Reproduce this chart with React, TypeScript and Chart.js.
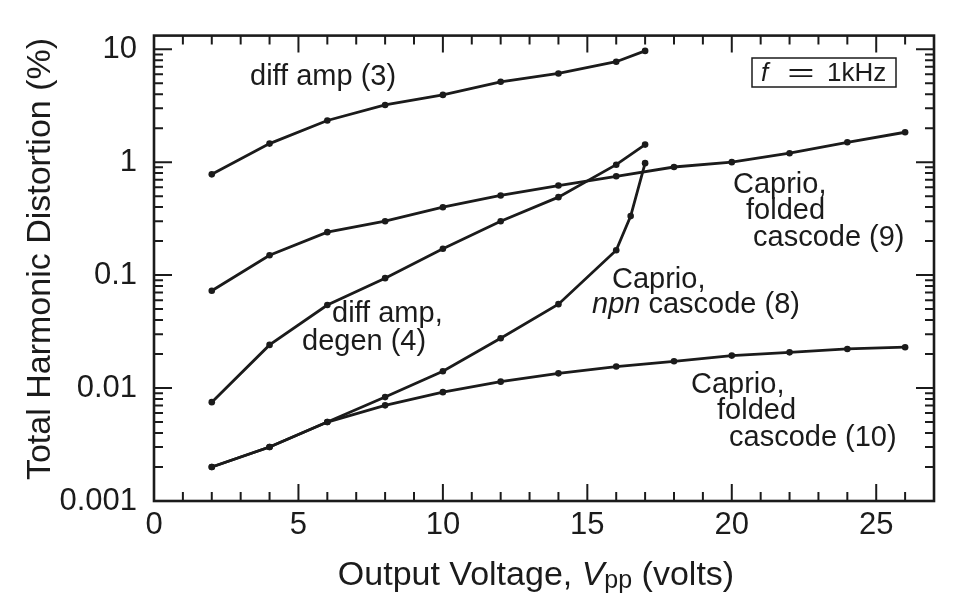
import React, { useEffect, useRef } from "react";
import { Chart, registerables } from "chart.js";

Chart.register(...registerables);

// ---- data ----
const diffAmpX = [2, 4, 6, 8, 10, 12, 14, 16, 17];
const diffAmpThd = [0.78, 1.46, 2.34, 3.21, 3.94, 5.15, 6.1, 7.75, 9.66];

const degenX = [2, 4, 6, 8, 10, 12, 14, 16, 17];
const degenThd = [0.0075, 0.0241, 0.0543, 0.094, 0.171, 0.3, 0.49, 0.95, 1.43];

const npnX = [2, 4, 6, 8, 10, 12, 14, 16, 16.5, 17];
const npnThd = [0.002, 0.00301, 0.005, 0.00832, 0.0141, 0.0276, 0.0553, 0.166, 0.333, 0.98];

const folded9X = [2, 4, 6, 8, 10, 12, 14, 16, 18, 20, 22, 24, 26];
const folded9Thd = [0.0727, 0.15, 0.24, 0.3, 0.399, 0.507, 0.621, 0.75, 0.906, 1.0, 1.2, 1.5, 1.84];

const folded10X = [2, 4, 6, 8, 10, 12, 14, 16, 18, 20, 22, 24, 26];
const folded10Thd = [0.002, 0.00301, 0.005, 0.00703, 0.0092, 0.0114, 0.0135, 0.0155, 0.01726, 0.01937, 0.0207, 0.0222, 0.023];

const xTicks = [0, 5, 10, 15, 20, 25];
const xTickLabels = ["0", "5", "10", "15", "20", "25"];
const yTicks = [0.001, 0.01, 0.1, 1, 10];
const yTickLabels = ["0.001", "0.01", "0.1", "1", "10"];
const X_MIN = 0;
const X_MAX = 27;
const Y_MIN = 0.001;
const Y_MAX = 13.2;

const INK = "#1b1b1b";
const FONT = "'Liberation Sans', Arial, Helvetica, sans-serif";

type Run = { text: string; italic?: boolean; size: number; dy?: number };

function drawRuns(ctx: CanvasRenderingContext2D, runs: Run[], x: number, y: number) {
  let cx = x;
  for (const r of runs) {
    ctx.font = `${r.italic ? "italic " : ""}${r.size}px ${FONT}`;
    ctx.fillText(r.text, cx, y + (r.dy || 0));
    cx += ctx.measureText(r.text).width;
  }
}

function runsWidth(ctx: CanvasRenderingContext2D, runs: Run[]) {
  let w = 0;
  for (const r of runs) {
    ctx.font = `${r.italic ? "italic " : ""}${r.size}px ${FONT}`;
    w += ctx.measureText(r.text).width;
  }
  return w;
}

const framePlugin = {
  id: "frameAndNotes",
  afterDraw(chart: any) {
    const { ctx, chartArea: a } = chart;
    const xs = chart.scales.x;
    const ys = chart.scales.y;
    ctx.save();
    ctx.strokeStyle = INK;
    ctx.fillStyle = INK;

    // frame
    ctx.lineWidth = 2.6;
    ctx.strokeRect(a.left, a.top, a.right - a.left, a.bottom - a.top);

    // inward ticks
    ctx.lineWidth = 2;
    ctx.beginPath();
    for (let v = X_MIN + 1; v < X_MAX; v++) {
      const px = xs.getPixelForValue(v);
      const len = xTicks.includes(v) ? 17 : 9;
      ctx.moveTo(px, a.bottom);
      ctx.lineTo(px, a.bottom - len);
      ctx.moveTo(px, a.top);
      ctx.lineTo(px, a.top + len);
    }
    for (const d of yTicks) {
      for (let m = 1; m <= 9; m++) {
        const v = d * m;
        if (v <= Y_MIN * 1.0001 || v > Y_MAX) continue;
        const py = ys.getPixelForValue(v);
        const len = m === 1 ? 18 : 9;
        ctx.moveTo(a.left, py);
        ctx.lineTo(a.left + len, py);
        ctx.moveTo(a.right, py);
        ctx.lineTo(a.right - len, py);
      }
    }
    ctx.stroke();

    // axis titles
    ctx.textBaseline = "alphabetic";
    ctx.textAlign = "left";
    const xTitle: Run[] = [
      { text: "Output Voltage, ", size: 34 },
      { text: "V", size: 34, italic: true },
      { text: "pp", size: 25, dy: 3 },
      { text: " (volts)", size: 34 },
    ];
    const xw = runsWidth(ctx, xTitle);
    drawRuns(ctx, xTitle, 536 - xw / 2, 585);

    ctx.save();
    ctx.translate(50, 259);
    ctx.rotate(-Math.PI / 2);
    ctx.font = `34px ${FONT}`;
    ctx.textAlign = "center";
    ctx.fillText("Total Harmonic Distortion (%)", 0, 0);
    ctx.restore();

    // curve labels
    ctx.textAlign = "left";
    const S = 29;
    drawRuns(ctx, [{ text: "diff amp (3)", size: S }], 250, 85);
    drawRuns(ctx, [{ text: "diff amp,", size: S }], 332, 322);
    drawRuns(ctx, [{ text: "degen (4)", size: S }], 302, 350);
    drawRuns(ctx, [{ text: "Caprio,", size: S }], 733, 193);
    drawRuns(ctx, [{ text: "folded", size: S }], 746, 219);
    drawRuns(ctx, [{ text: "cascode (9)", size: S }], 753, 246);
    drawRuns(ctx, [{ text: "Caprio,", size: S }], 612, 288);
    drawRuns(ctx, [{ text: "npn", size: S, italic: true }, { text: " cascode (8)", size: S }], 592, 313);
    drawRuns(ctx, [{ text: "Caprio,", size: S }], 691, 393);
    drawRuns(ctx, [{ text: "folded", size: S }], 717, 419);
    drawRuns(ctx, [{ text: "cascode (10)", size: S }], 729, 446);

    // f = 1kHz box
    ctx.lineWidth = 1.5;
    ctx.strokeRect(752, 58, 144, 29);
    ctx.font = `italic 26px ${FONT}`;
    ctx.fillText("f", 761, 81);
    ctx.save();
    ctx.translate(801, 81);
    ctx.scale(1.8, 1);
    ctx.font = `26px ${FONT}`;
    ctx.textAlign = "center";
    ctx.fillText("=", 0, 0);
    ctx.restore();
    ctx.font = `26px ${FONT}`;
    ctx.fillText("1kHz", 827, 81);

    ctx.restore();
  },
};

function series(label: string, xsArr: number[], ysArr: number[]) {
  return {
    label,
    data: xsArr.map((x, i) => ({ x, y: ysArr[i] })),
    showLine: true,
    borderColor: INK,
    backgroundColor: INK,
    borderWidth: 2.8,
    pointRadius: 3.3,
    pointBorderWidth: 0,
    pointBackgroundColor: INK,
    tension: 0,
    fill: false,
  };
}

export default function App() {
  const ref = useRef<HTMLCanvasElement | null>(null);
  useEffect(() => {
    const canvas = ref.current;
    if (!canvas) return;
    Chart.defaults.font.family = FONT;
    const chart = new Chart(canvas, {
      type: "scatter",
      data: {
        datasets: [
          series("diff amp (3)", diffAmpX, diffAmpThd),
          series("diff amp, degen (4)", degenX, degenThd),
          series("Caprio, npn cascode (8)", npnX, npnThd),
          series("Caprio, folded cascode (9)", folded9X, folded9Thd),
          series("Caprio, folded cascode (10)", folded10X, folded10Thd),
        ] as any,
      },
      options: {
        responsive: false,
        animation: false,
        layout: { padding: { top: 33, right: 34, left: 0, bottom: 0 } },
        plugins: { legend: { display: false }, tooltip: { enabled: false } },
        scales: {
          x: {
            type: "linear",
            min: X_MIN,
            max: X_MAX,
            grid: { display: false, drawTicks: false },
            border: { display: false },
            ticks: {
              padding: 6,
              autoSkip: false,
              maxRotation: 0,
              color: INK,
              font: { size: 31 },
              callback: (v: any) => {
                const i = xTicks.indexOf(Number(v));
                return i >= 0 ? xTickLabels[i] : "";
              },
            },
            afterBuildTicks: (s: any) => {
              s.ticks = xTicks.map((v) => ({ value: v }));
            },
            afterFit: (s: any) => {
              s.height = 107;
            },
          },
          y: {
            type: "logarithmic",
            min: Y_MIN,
            max: Y_MAX,
            grid: { display: false, drawTicks: false },
            border: { display: false },
            ticks: {
              padding: 17,
              autoSkip: false,
              color: INK,
              font: { size: 31 },
              callback: (v: any) => {
                const n = Number(v);
                const i = yTicks.findIndex((t) => Math.abs(t - n) / t < 1e-6);
                return i >= 0 ? yTickLabels[i] : "";
              },
            },
            afterBuildTicks: (s: any) => {
              s.ticks = yTicks.map((v) => ({ value: v }));
            },
            afterFit: (s: any) => {
              s.width = 154;
            },
          },
        },
      } as any,
      plugins: [framePlugin],
    });
    return () => chart.destroy();
  }, []);

  return (
    <div style={{ position: "fixed", left: 0, top: 0, width: 968, height: 608, background: "#fff" }}>
      <canvas ref={ref} width={968} height={608} style={{ display: "block", width: 968, height: 608 }} />
    </div>
  );
}
